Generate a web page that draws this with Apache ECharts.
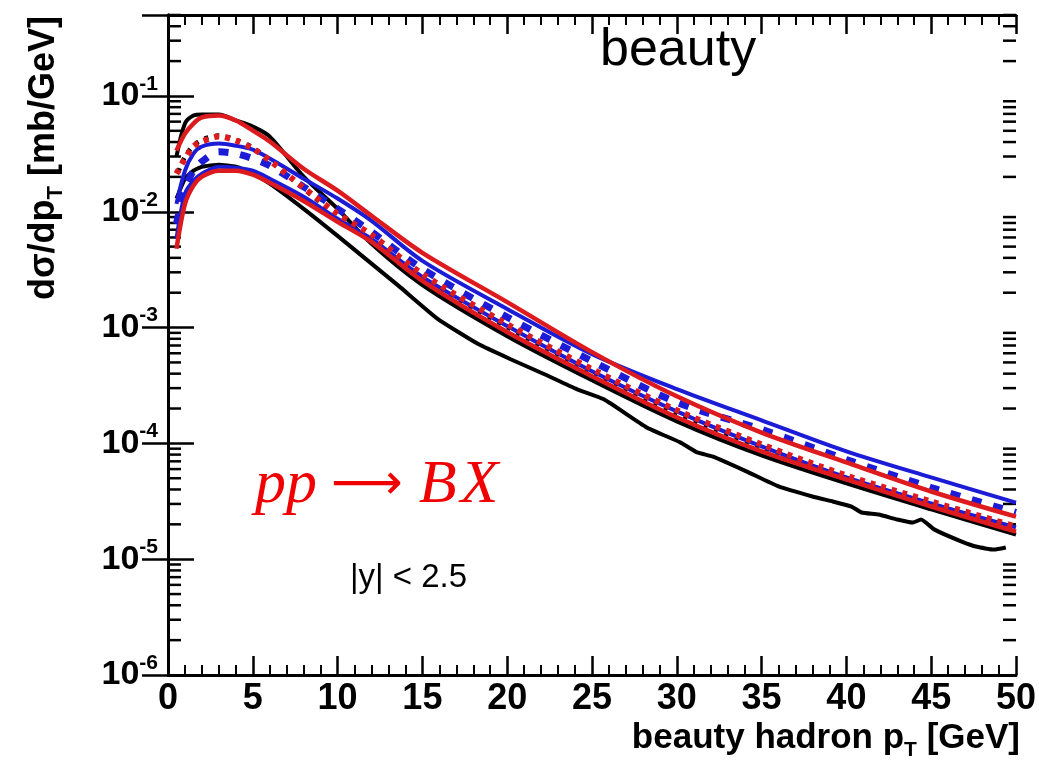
<!DOCTYPE html>
<html>
<head>
<meta charset="utf-8">
<script src="https://cdn.jsdelivr.net/npm/echarts@6/dist/echarts.min.js"></script>
<style>
  html, body { margin: 0; padding: 0; background: #fff; }
  #main { width: 1039px; height: 765px; }
</style>
</head>
<body>
<div id="main"></div>
<script>
// beauty hadron pT grid [GeV] and dsigma/dpT curves [mb/GeV]
const ptGrid = [0.5, 1, 1.5, 2, 3, 4, 5, 6, 8, 10, 12, 15, 20, 25, 30, 35, 40, 45, 50];

const redUpper = [0.0337, 0.0473, 0.0578, 0.0652, 0.0677, 0.0614, 0.0502, 0.0404, 0.0235, 0.0152, 0.00923, 0.00442, 0.00166, 6.14e-4, 2.55e-4, 1.24e-4, 6.84e-5, 3.84e-5, 2.33e-5];
const redDotted = [0.0213, 0.0288, 0.0366, 0.0404, 0.0446, 0.0412, 0.0351, 0.0277, 0.0161, 0.00962, 0.00632, 0.00290, 0.00107, 4.38e-4, 1.93e-4, 9.80e-5, 5.28e-5, 3.15e-5, 1.91e-5];
const redLower = [0.00479, 0.0117, 0.0168, 0.0201, 0.0226, 0.0226, 0.0209, 0.0178, 0.0124, 0.00818, 0.00549, 0.00253, 9.15e-4, 3.80e-4, 1.68e-4, 8.53e-5, 4.88e-5, 2.85e-5, 1.73e-5];

const blueUpper = [0.0117, 0.0226, 0.0318, 0.0366, 0.0388, 0.0372, 0.0344, 0.0288, 0.0193, 0.0130, 0.00835, 0.00377, 0.00145, 5.90e-4, 2.94e-4, 1.58e-4, 8.53e-5, 5.08e-5, 3.08e-5];
const blueDashed = [0.00787, 0.0158, 0.0226, 0.0271, 0.0330, 0.0318, 0.0288, 0.0250, 0.0164, 0.0106, 0.00671, 0.00321, 0.00123, 5.13e-4, 2.26e-4, 1.32e-4, 7.26e-5, 4.16e-5, 2.53e-5];
const blueLower = [0.00583, 0.0143, 0.0185, 0.0213, 0.0245, 0.0240, 0.0226, 0.0193, 0.0135, 0.00869, 0.00583, 0.00274, 0.00103, 4.20e-4, 1.89e-4, 9.42e-5, 5.08e-5, 3.03e-5, 1.88e-5];

const blackUpper = [0.0299, 0.0578, 0.0677, 0.0692, 0.0692, 0.0614, 0.0544, 0.0446, 0.0201, 0.0106, 0.00528, 0.00233, 8.43e-4, 3.51e-4, 1.55e-4, 7.87e-5, 4.51e-5, 2.69e-5, 1.63e-5];
const blackDotted = [0.0201, 0.0299, 0.0372, 0.0420, 0.0455, 0.0420, 0.0358, 0.0277, 0.0158, 0.00923, 0.00608, 0.00274, 0.00101, 4.12e-4, 1.82e-4, 9.23e-5, 4.98e-5, 2.96e-5, 1.80e-5];

// the lowest black curve is jagged, read on its own pT points
const blackLowerPt = [0.5, 1, 1.5, 2, 3, 4, 5, 6, 8, 10, 13.6, 15.9, 18.3, 20.2, 22.2, 24.1, 25.7, 28.2, 30.2, 31.2, 32.1, 34.1, 36.0, 38.0, 39.2, 40.3, 40.9, 41.9, 43.0, 43.9, 44.4, 45.2, 46.8, 47.7, 48.7, 49.4];
const blackLower = [0.0130, 0.0193, 0.0226, 0.0245, 0.0255, 0.0245, 0.0213, 0.0175, 0.0106, 0.00619, 0.00229, 0.00119, 7.20e-4, 5.33e-4, 3.95e-4, 2.94e-4, 2.40e-4, 1.38e-4, 1.02e-4, 8.36e-5, 7.71e-5, 5.73e-5, 4.25e-5, 3.48e-5, 3.15e-5, 2.85e-5, 2.53e-5, 2.43e-5, 2.20e-5, 2.07e-5, 2.20e-5, 1.80e-5, 1.42e-5, 1.28e-5, 1.21e-5, 1.26e-5];

// axis ranges and log minor ticks
const xRange = [0, 50];
const yRange = [1e-6, 0.5];
const yDecades = [-6, -5, -4, -3, -2, -1];
const yMinorMultipliers = [2, 3, 4, 5, 6, 7, 8, 9];

const RED = '#dd1a1e';
const BLUE = '#1c1cd6';
const BLACK = '#000';
const FONT = '"Liberation Sans", Arial, Helvetica, sans-serif';

const yMinorTicks = [];
yDecades.forEach(d => yMinorMultipliers.forEach(m => {
  const v = m * Math.pow(10, d);
  if (v <= yRange[1]) yMinorTicks.push([0, v]);
}));

function pairs(xs, ys) {
  return xs.map((x, i) => [x, ys[i]]);
}

function curve(name, xs, ys, color, width, dash, smooth, offset) {
  return {
    name: name,
    type: 'line',
    data: pairs(xs, ys),
    showSymbol: false,
    smooth: smooth,
    silent: true,
    lineStyle: { color: color, width: width, type: dash || 'solid', dashOffset: offset || 0, cap: 'butt' }
  };
}

const chart = echarts.init(document.getElementById('main'));

const xAxisCommon = {
  type: 'value',
  min: xRange[0],
  max: xRange[1],
  interval: 5,
  splitLine: { show: false },
  axisLine: { show: true, onZero: false, lineStyle: { color: BLACK, width: 3 } },
  axisTick: { show: true, inside: true, length: 19, lineStyle: { color: BLACK, width: 2.5 } },
  minorTick: { show: true, splitNumber: 5, length: 10, lineStyle: { color: BLACK, width: 2 } }
};

const yAxisCommon = {
  type: 'log',
  logBase: 10,
  min: yRange[0],
  max: yRange[1],
  splitLine: { show: false },
  axisLine: { show: true, lineStyle: { color: BLACK, width: 3 } },
  axisTick: { show: true, inside: true, length: 26, lineStyle: { color: BLACK, width: 2.5 } }
};

chart.setOption({
  animation: false,
  backgroundColor: '#fff',
  grid: { left: 168, right: 17, top: 15, bottom: 90 },
  xAxis: [
    Object.assign({}, xAxisCommon, {
      position: 'bottom',
      axisLabel: { margin: 6, color: BLACK, fontFamily: FONT, fontWeight: 'bold', fontSize: 36 }
    }),
    Object.assign({}, xAxisCommon, {
      position: 'top',
      axisLabel: { show: false }
    })
  ],
  yAxis: [
    Object.assign({}, yAxisCommon, {
      position: 'left',
      axisLabel: {
        margin: 10,
        color: BLACK,
        fontFamily: FONT,
        formatter: function (v) {
          const l = Math.log10(v);
          const e = Math.round(l);
          if (Math.abs(l - e) > 1e-6) return '';
          return '{b|10}{s|' + e + '}';
        },
        rich: {
          b: { fontSize: 34, fontWeight: 'bold', fontFamily: FONT, color: BLACK },
          s: { fontSize: 21, fontWeight: 'bold', fontFamily: FONT, color: BLACK, padding: [0, 0, 24, 0] }
        }
      }
    }),
    Object.assign({}, yAxisCommon, {
      position: 'right',
      axisLabel: { show: false }
    })
  ],
  graphic: [
    {
      type: 'text', x: 600, y: 51, silent: true,
      style: { text: 'beauty', font: '52px ' + FONT, fill: BLACK, textVerticalAlign: 'middle' }
    },
    {
      type: 'text', x: 255, y: 486, silent: true,
      style: {
        text: '{i|pp}{a|⟶}{b|B}{i|X}',
        rich: {
          i: { font: 'italic 62px "Liberation Serif", "Times New Roman", serif', fill: '#f00000' },
          b: { font: 'italic 62px "Liberation Serif", "Times New Roman", serif', fill: '#f00000', padding: [0, 4, 0, 0] },
          a: { font: '50px "DejaVu Sans", sans-serif', fill: '#f00000', padding: [0, 16, 0, 14] }
        },
        textVerticalAlign: 'middle'
      }
    },
    {
      type: 'text', x: 350, y: 578, silent: true,
      style: { text: '|y| < 2.5', font: '33px ' + FONT, fill: BLACK, textVerticalAlign: 'middle' }
    },
    {
      type: 'text', x: 1020, y: 738, silent: true,
      style: {
        text: '{t|beauty hadron p}{u|T}{t| [GeV]}',
        rich: {
          t: { font: 'bold 35px ' + FONT, fill: BLACK },
          u: { font: 'bold 21px ' + FONT, fill: BLACK, padding: [24, 0, 0, 0] }
        },
        textAlign: 'right',
        textVerticalAlign: 'middle'
      }
    },
    {
      type: 'text', x: 44, y: 158, rotation: Math.PI / 2, silent: true,
      style: {
        text: '{t|dσ/dp}{u|T}{t| [mb/GeV]}',
        rich: {
          t: { font: 'bold 36px ' + FONT, fill: BLACK },
          u: { font: 'bold 22px ' + FONT, fill: BLACK, padding: [24, 0, 0, 0] }
        },
        textAlign: 'center',
        textVerticalAlign: 'middle'
      }
    }
  ],
  series: [
    curve('black lower', blackLowerPt, blackLower, BLACK, 4, 'solid', 0.15),
    curve('black upper', ptGrid, blackUpper, BLACK, 4, 'solid', 0.3),
    curve('black central', ptGrid, blackDotted, BLACK, 4.5, [4, 7], 0.3, 6),
    curve('blue lower', ptGrid, blueLower, BLUE, 4, 'solid', 0.3),
    curve('blue upper', ptGrid, blueUpper, BLUE, 4, 'solid', 0.3),
    curve('blue central', ptGrid, blueDashed, BLUE, 7, [10, 12], 0.3),
    curve('red lower', ptGrid, redLower, RED, 4.5, 'solid', 0.3),
    curve('red upper', ptGrid, redUpper, RED, 4.5, 'solid', 0.3),
    curve('red central', ptGrid, redDotted, RED, 6, [5, 6], 0.3),
    {
      name: 'y minor ticks',
      type: 'custom',
      silent: true,
      clip: false,
      data: yMinorTicks,
      renderItem: function (params, api) {
        const v = api.value(1);
        const pl = api.coord([xRange[0], v]);
        const pr = api.coord([xRange[1], v]);
        const st = { stroke: BLACK, lineWidth: 2.5 };
        return {
          type: 'group',
          children: [
            { type: 'line', shape: { x1: pl[0], y1: pl[1], x2: pl[0] + 13, y2: pl[1] }, style: st },
            { type: 'line', shape: { x1: pr[0] - 13, y1: pr[1], x2: pr[0], y2: pr[1] }, style: st }
          ]
        };
      }
    }
  ]
});
</script>
</body>
</html>
